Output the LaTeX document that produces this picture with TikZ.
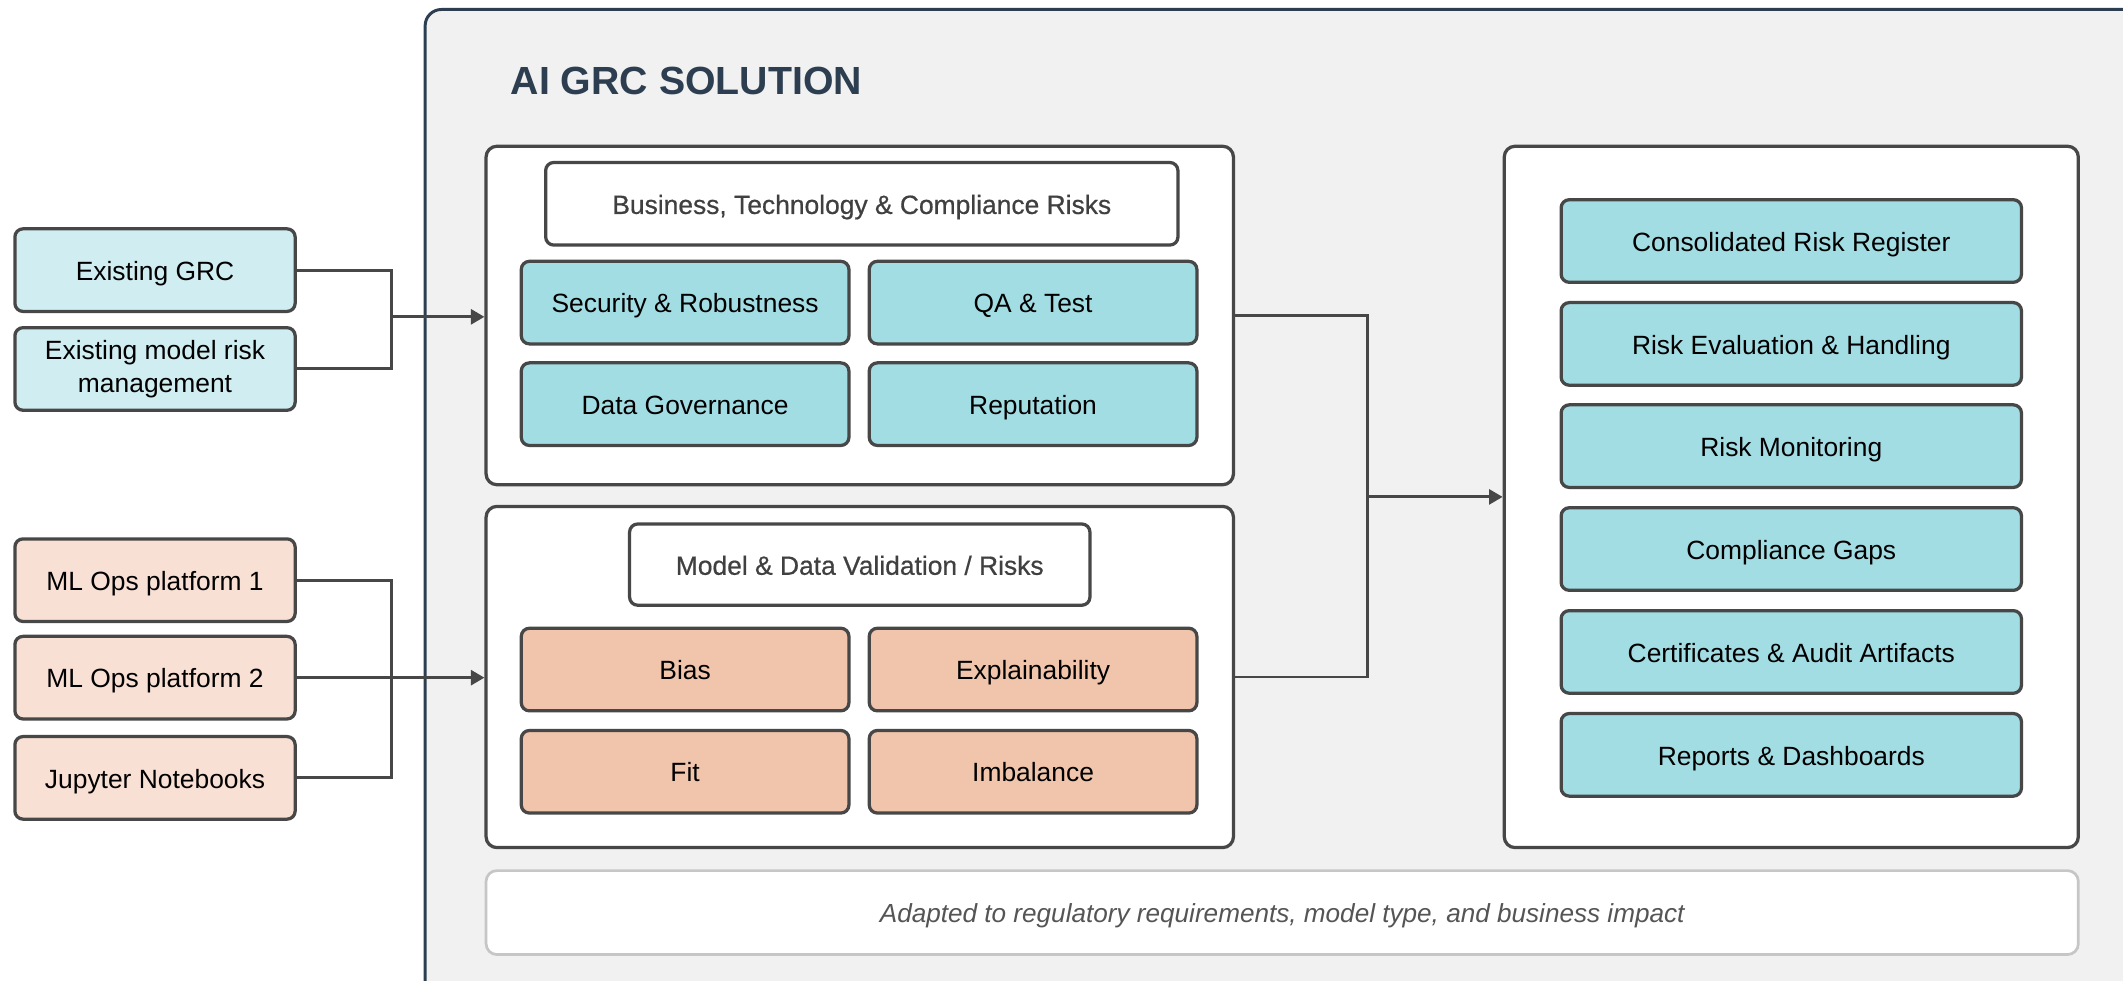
\documentclass[tikz,border=0pt]{standalone}
\usepackage{fontspec}
\setmainfont{Liberation Sans}
\usetikzlibrary{arrows.meta}
\definecolor{edgec}{HTML}{474747}
\definecolor{outerc}{HTML}{2C3E50}
\definecolor{bgc}{HTML}{F1F1F1}
\definecolor{cyanl}{HTML}{D0EDF2}
\definecolor{cyanm}{HTML}{A3DDE4}
\definecolor{peachl}{HTML}{F9E0D4}
\definecolor{peachm}{HTML}{F1C4AC}
\definecolor{bannerc}{HTML}{C6C6C6}
\definecolor{headtext}{HTML}{404040}
\definecolor{itext}{HTML}{555555}
\tikzset{
  basebox/.style={draw=edgec, line width=2.4pt, rounded corners=6pt, align=center,
    inner sep=0pt, font=\fontsize{19.5}{24}\selectfont, text=black},
  onel/.style={text height=17pt, text depth=2pt},
  leftbox/.style={basebox, minimum width=207pt, minimum height=61pt},
  cellbox/.style={basebox, onel, minimum width=242pt, minimum height=61pt},
  itembox/.style={basebox, onel, fill=cyanm, minimum width=340pt, minimum height=61pt},
  panel/.style={draw=edgec, line width=2.4pt, rounded corners=8pt, fill=white, inner sep=0pt},
  headbox/.style={basebox, onel, fill=white, minimum height=61pt, text=headtext,
    font=\fontsize{19.5}{24}\selectfont\addfontfeatures{FakeBold=0.6}},
  conn/.style={draw=edgec, line width=2.2pt},
  arrowc/.style={conn, -{Triangle[length=10pt,width=11pt]}},
}
\begin{document}
\begin{tikzpicture}[x=1pt,y=-1pt]
\useasboundingbox (0,0) rectangle (1568,724);
\fill[white] (0,0) rectangle (1568,724);
\begin{scope}
\clip (0,0) rectangle (1568,724);
\draw[draw=outerc, fill=bgc, line width=2.2pt, rounded corners=12pt] (314,7) rectangle (1600,760);
\end{scope}
\node[anchor=west, text=outerc, font=\fontsize{29}{34}\selectfont\bfseries, inner sep=0pt] (title) at (377,60) {AI GRC SOLUTION};

% left inputs
\node[leftbox, onel, fill=cyanl] (egrc) at (114.5,199.5) {Existing GRC};
\node[leftbox, fill=cyanl] (emrm) at (114.5,272.5) {Existing model risk\\management};
\node[leftbox, onel, fill=peachl] (ml1) at (114.5,428.5) {ML Ops platform 1};
\node[leftbox, onel, fill=peachl] (ml2) at (114.5,500.5) {ML Ops platform 2};
\node[leftbox, onel, fill=peachl] (jup) at (114.5,574.5) {Jupyter Notebooks};

% upper panel
\node[panel, minimum width=552pt, minimum height=250pt] (up) at (635,233) {};
\node[headbox, minimum width=467pt] (h1) at (636.5,150.5) {Business, Technology \& Compliance Risks};
\node[cellbox, fill=cyanm] (sr) at (506,223.5) {Security \& Robustness};
\node[cellbox, fill=cyanm] (qa) at (763,223.5) {QA \& Test};
\node[cellbox, fill=cyanm] (dg) at (506,298.5) {Data Governance};
\node[cellbox, fill=cyanm] (rep) at (763,298.5) {Reputation};

% lower panel
\node[panel, minimum width=552pt, minimum height=252pt] (lo) at (635,500) {};
\node[headbox, minimum width=340pt, minimum height=60pt] (h2) at (635,417) {Model \& Data Validation / Risks};
\node[cellbox, fill=peachm] (bias) at (506,494.5) {Bias};
\node[cellbox, fill=peachm] (expl) at (763,494.5) {Explainability};
\node[cellbox, fill=peachm] (fit) at (506,570) {Fit};
\node[cellbox, fill=peachm] (imb) at (763,570) {Imbalance};

% right panel
\node[panel, minimum width=424pt, minimum height=518pt] (rp) at (1323,367) {};
\node[itembox] (r1) at (1323,178) {Consolidated Risk Register};
\node[itembox] (r2) at (1323,254) {Risk Evaluation \& Handling};
\node[itembox] (r3) at (1323,329.5) {Risk Monitoring};
\node[itembox] (r4) at (1323,405.5) {Compliance Gaps};
\node[itembox] (r5) at (1323,481.5) {Certificates \& Audit Artifacts};
\node[itembox] (r6) at (1323,557.5) {Reports \& Dashboards};

% banner
\node[draw=bannerc, line width=2pt, rounded corners=8pt, fill=white, minimum width=1176pt,
  minimum height=62pt, inner sep=0pt, text=itext, text height=17pt, text depth=2pt,
  font=\fontsize{19.3}{24}\selectfont\itshape]
  (ban) at (947,674) {Adapted to regulatory requirements, model type, and business impact};

% connectors
\coordinate (j1) at (289,234);
\coordinate (j2) at (289,500);
\coordinate (j3) at (1010,367);
\draw[conn] (egrc.east) -| (j1);
\draw[conn] (emrm.east) -| (j1);
\draw[arrowc] (j1) -- (j1 -| up.west);
\draw[conn] (ml1.east) -| (j2);
\draw[conn] (jup.east) -| (j2);
\draw[arrowc] (ml2.east) -- (ml2.east -| lo.west);
\draw[conn] (up.east) -| (j3);
\draw[conn] (lo.east) -| (j3);
\draw[arrowc] (j3) -- (j3 -| rp.west);
\end{tikzpicture}
\end{document}
